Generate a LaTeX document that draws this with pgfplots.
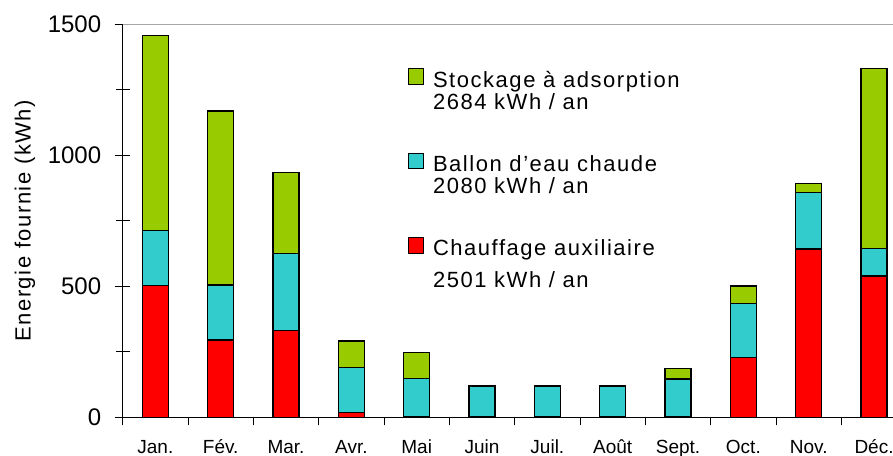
\documentclass[border=0pt]{standalone}
\usepackage{pgfplots}
\pgfplotsset{compat=1.18}
\usepackage{fontspec}
\setmainfont{Liberation Sans}[LetterSpace=7]
\definecolor{cgreen}{HTML}{99CC00}
\definecolor{ccyan}{HTML}{33CCCC}
\definecolor{cred}{HTML}{FF0000}
\begin{document}
\begin{tikzpicture}
\begin{axis}[
  name=ax,
  scale only axis,
  width=784bp, height=393bp,
  xmin=-0.5, xmax=11.5, ymin=0, ymax=1500,
  axis lines*=left,
  axis line style={black, line width=1bp},
  ybar stacked, bar width=26bp,
  xtick={-0.5,0.5,...,11.5},
  xticklabels={Jan.,Fév.,Mar.,Avr.,Mai,Juin,Juil.,Août,Sept.,Oct.,Nov.,Déc.,{}},
  xticklabel style={font=\fontsize{19bp}{22bp}\selectfont\addfontfeature{LetterSpace=0}, anchor=base, inner sep=0pt, xshift=32.67bp, yshift=-28bp},
  xtick align=outside,
  major tick length=8bp,
  tick style={black, line width=1bp},
  ytick={0,500,1000,1500},
  yticklabels={0,500,1000,1500},
  ytick align=outside,
  extra y ticks={0,250,...,1500},
  extra y tick labels={},
  extra y tick style={major tick length=14bp, ytick align=center},
  yticklabel style={font=\fontsize{24bp}{28bp}\selectfont\addfontfeature{LetterSpace=0}, xshift=-10bp},
  ylabel={Energie fournie (kWh)},
  ylabel style={at={(rel axis cs:-0.1176,0.5)}, anchor=base, font=\fontsize{22bp}{26bp}\selectfont},
  legend style={at={(rel axis cs:0.3635,0.889)}, anchor=north west, draw=none, fill=none,
    font=\fontsize{22bp}{22bp}\selectfont, row sep=40bp, inner sep=0pt,
    cells={align=left, anchor=north west, inner ysep=0pt, inner xsep=0pt}},
  legend image code/.code={\draw[#1, draw=black, line width=1bp] (0bp,-15.5bp) rectangle (15bp,0bp); \path (22bp,0bp);},
  reverse legend,
  every axis plot/.append style={draw=black, line width=1.3bp},
]
\addplot[fill=cred] coordinates {(0,502) (1,295) (2,330) (3,18) (4,2) (5,2) (6,2) (7,2) (8,2) (9,227) (10,642) (11,539)};
\addlegendentry{Chauffage auxiliaire\\[10bp]2501 kWh / an}
\addplot[fill=ccyan] coordinates {(0,212) (1,210) (2,296) (3,173) (4,145) (5,117) (6,117) (7,117) (8,144) (9,207) (10,215) (11,104)};
\addlegendentry{Ballon d'eau chaude\\2080 kWh / an}
\addplot[fill=cgreen] coordinates {(0,742) (1,664) (2,309) (3,100) (4,101) (5,0) (6,0) (7,0) (8,41) (9,67) (10,36) (11,689)};
\addlegendentry{Stockage à adsorption\\2684 kWh / an}
\end{axis}
\draw[gray!70, line width=1bp] (ax.north west) -- (ax.north east);
\pgfresetboundingbox
\path[use as bounding box] ([shift={(-122.7bp,-38.7bp)}]ax.south west) rectangle ([shift={(770.3bp,417.3bp)}]ax.south west);
\end{tikzpicture}
\end{document}
